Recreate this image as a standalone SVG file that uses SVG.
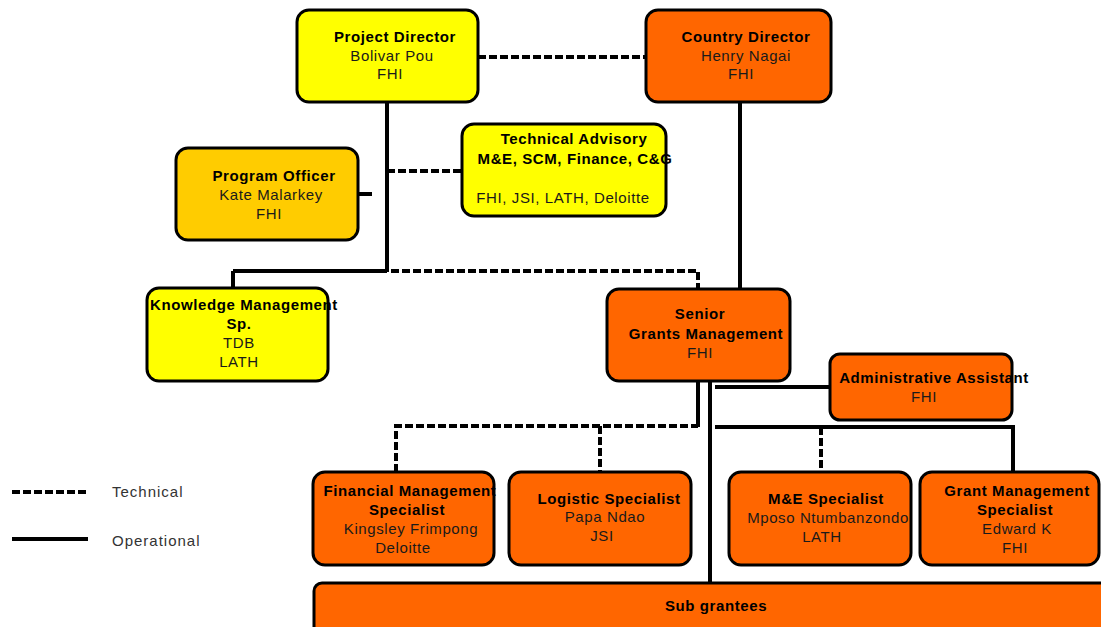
<svg xmlns="http://www.w3.org/2000/svg" width="1101" height="627" viewBox="0 0 1101 627">
<style>
.box{stroke:#000;stroke-width:3}
.y{fill:#FFFF00}
.o{fill:#FF6600}
.g{fill:#FFCC00}
text{font-family:"Liberation Sans",Arial,sans-serif;font-size:15px;letter-spacing:0.6px;text-anchor:middle;fill:#1a1a1a}
.t{font-weight:bold;fill:#000}
.op{stroke:#000;stroke-width:4;fill:none}
.te{stroke:#000;stroke-width:4;fill:none;stroke-dasharray:8 3}
.lg{text-anchor:start;fill:#333;letter-spacing:1px}
</style>
<defs>
<clipPath id="clipME"><rect x="729" y="472" width="183" height="93"/></clipPath>
</defs>
<rect width="1101" height="627" fill="#fff"/>
<g id="connectors">
<line class="te" x1="478" y1="57" x2="646" y2="57"/>
<line class="op" x1="387" y1="102" x2="387" y2="272"/>
<line class="te" x1="387" y1="171" x2="462" y2="171"/>
<line class="op" x1="358" y1="194" x2="372" y2="194"/>
<line class="op" x1="233" y1="271" x2="387" y2="271"/>
<line class="op" x1="233" y1="271" x2="233" y2="288"/>
<polyline class="te" points="391,271 698,271 698,289"/>
<line class="op" x1="740" y1="102" x2="740" y2="289"/>
<line class="op" x1="698" y1="381" x2="698" y2="427"/>
<line class="op" x1="710" y1="381" x2="710" y2="583"/>
<line class="op" x1="715" y1="387" x2="830" y2="387"/>
<polyline class="te" points="396,472 396,426 698,426"/>
<line class="te" x1="600" y1="426" x2="600" y2="472"/>
<polyline class="op" points="715,427 1013,427 1013,472"/>
<line class="te" x1="821" y1="427" x2="821" y2="472"/>
</g>
<g id="project-director">
<rect class="box y" x="297" y="10" width="181" height="92" rx="12"/>
<text class="t" x="395" y="42">Project Director</text>
<text x="392" y="61">Bolivar Pou</text>
<text x="390" y="79">FHI</text>
</g>
<g id="country-director">
<rect class="box o" x="646" y="10" width="185" height="92" rx="12"/>
<text class="t" x="746" y="42">Country Director</text>
<text x="746" y="61">Henry Nagai</text>
<text x="741" y="79">FHI</text>
</g>
<g id="program-officer">
<rect class="box g" x="176" y="148" width="182" height="92" rx="12"/>
<text class="t" x="274" y="181">Program Officer</text>
<text x="271" y="200">Kate Malarkey</text>
<text x="269" y="219">FHI</text>
</g>
<g id="technical-advisory">
<rect class="box y" x="462" y="124" width="204" height="92" rx="12"/>
<text class="t" x="574" y="144">Technical Advisory</text>
<text class="t" x="575" y="164">M&amp;E, SCM, Finance, C&amp;G</text>
<text x="563" y="203">FHI, JSI, LATH, Deloitte</text>
</g>
<g id="knowledge-management">
<rect class="box y" x="147" y="288" width="181" height="93" rx="12"/>
<text class="t" x="244" y="310">Knowledge Management</text>
<text class="t" x="239" y="329">Sp.</text>
<text x="239" y="348">TDB</text>
<text x="239" y="367">LATH</text>
</g>
<g id="senior-grants">
<rect class="box o" x="607" y="289" width="183" height="92" rx="12"/>
<text class="t" x="700" y="319">Senior</text>
<text class="t" x="706" y="339">Grants Management</text>
<text x="700" y="358">FHI</text>
</g>
<g id="admin-assistant">
<rect class="box o" x="830" y="354" width="182" height="66" rx="10"/>
<text class="t" x="934" y="383">Administrative Assistant</text>
<text x="924" y="402">FHI</text>
</g>
<g id="financial-management">
<rect class="box o" x="313" y="472" width="181" height="93" rx="12"/>
<text class="t" x="410" y="496">Financial Management</text>
<text class="t" x="407" y="515">Specialist</text>
<text x="411" y="534">Kingsley Frimpong</text>
<text x="403" y="553">Deloitte</text>
</g>
<g id="logistic-specialist">
<rect class="box o" x="509" y="472" width="182" height="93" rx="12"/>
<text class="t" x="609" y="504">Logistic Specialist</text>
<text x="605" y="522">Papa Ndao</text>
<text x="602" y="541">JSI</text>
</g>
<g id="me-specialist">
<rect class="box o" x="729" y="472" width="182" height="93" rx="12"/>
<text class="t" x="826" y="504">M&amp;E Specialist</text>
<text x="828" y="523" clip-path="url(#clipME)">Mposo Ntumbanzondo</text>
<text x="822" y="542">LATH</text>
</g>
<g id="grant-management">
<rect class="box o" x="920" y="472" width="179" height="93" rx="12"/>
<text class="t" x="1017" y="496">Grant Management</text>
<text class="t" x="1015" y="515">Specialist</text>
<text x="1017" y="534">Edward K</text>
<text x="1015" y="553">FHI</text>
</g>
<g id="sub-grantees">
<rect class="box o" x="314" y="583" width="800" height="60" rx="8"/>
<text class="t" x="716" y="611">Sub grantees</text>
</g>
<g id="legend">
<line class="te" x1="12" y1="492" x2="88" y2="492"/>
<text class="lg" x="112" y="497">Technical</text>
<line class="op" x1="12" y1="539" x2="88" y2="539"/>
<text class="lg" x="112" y="546">Operational</text>
</g>
</svg>
